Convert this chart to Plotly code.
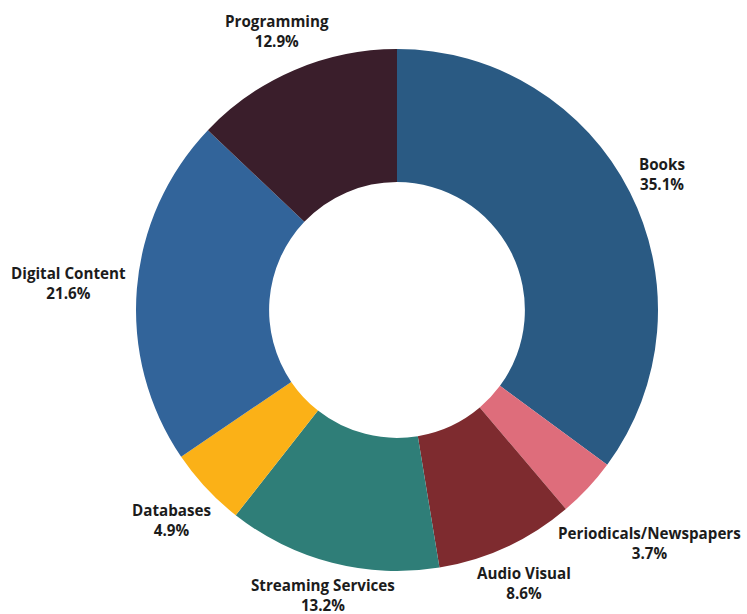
import plotly.graph_objects as go

categories = ["Books", "Periodicals/Newspapers", "Audio Visual", "Streaming Services",
              "Databases", "Digital Content", "Programming"]
shares = [35.1, 3.7, 8.6, 13.2, 4.9, 21.6, 12.9]
colors = ["#2a5a83", "#de6d7b", "#7e2b2f", "#2f7e78", "#fbb117", "#32649a", "#3a1e2b"]

# label placement (page pixels: x centre, y centre of the two-line label)
label_x = [662, 649, 524, 323, 171, 68, 277]
label_y = [174, 543, 583, 595, 520, 283, 31]

W, H = 747, 614
ML, MR, MT, MB = 136, 89, 49, 43
PW, PH = W - ML - MR, H - MT - MB

fig = go.Figure(go.Pie(
    labels=categories,
    values=shares,
    hole=0.49,
    sort=False,
    direction="clockwise",
    rotation=0,
    marker=dict(colors=colors, line=dict(width=0)),
    textinfo="none",
    hoverinfo="label+percent",
    showlegend=False,
    automargin=False,
))

font = dict(family="Open Sans", size=15.2, color="#1c1c1c")
for cat, val, x, y in zip(categories, shares, label_x, label_y):
    px = (x - ML) / PW
    py = 1 - (y - MT) / PH
    fig.add_annotation(x=px, y=py, xref="paper", yref="paper",
                       text=f"<b>{cat}</b><br><b>{val:.1f}%</b>",
                       showarrow=False, xanchor="center", yanchor="middle",
                       align="center", font=font)

fig.update_layout(
    width=W, height=H,
    margin=dict(l=ML, r=MR, t=MT, b=MB),
    paper_bgcolor="white",
    plot_bgcolor="white",
)

fig.write_html("out.html",
               config={"displayModeBar": False},
               post_script="document.body.style.margin='0';document.body.style.overflow='hidden';")
